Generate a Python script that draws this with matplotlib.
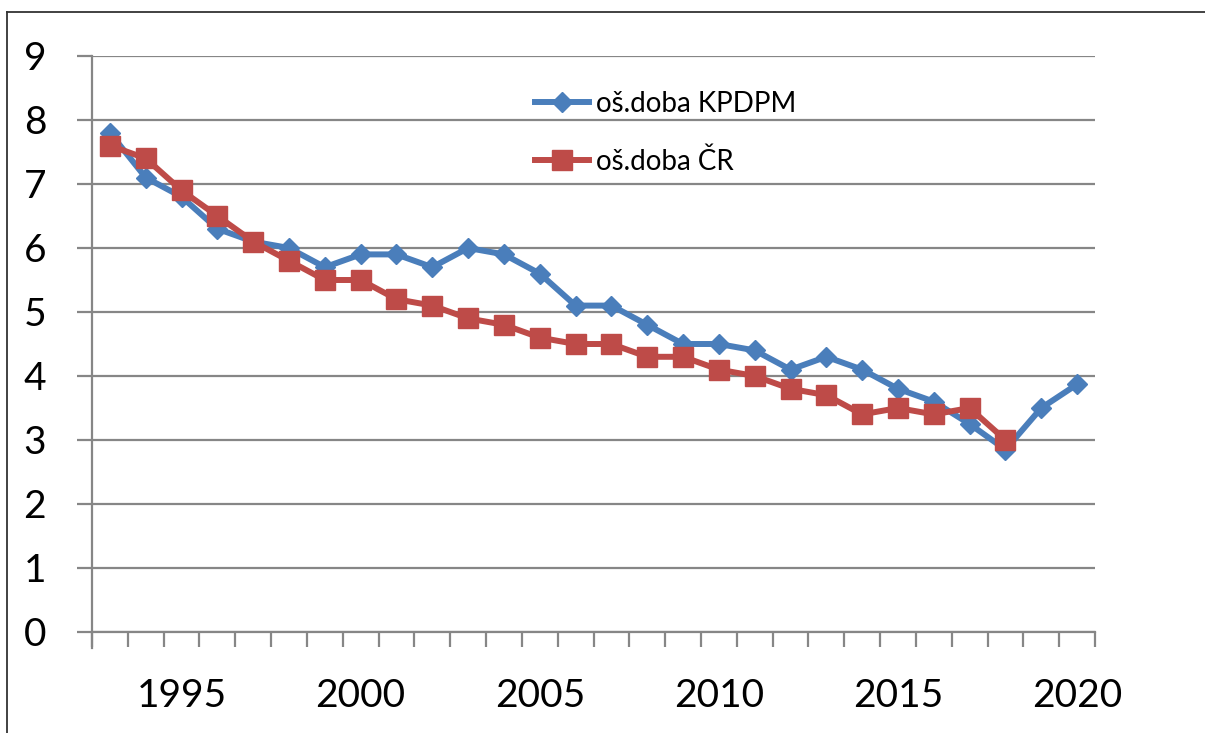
import matplotlib
matplotlib.use('Agg')
import matplotlib.pyplot as plt
from matplotlib.lines import Line2D
import numpy as np

years = list(range(1993, 2021))
kpdpm = [7.8, 7.1, 6.8, 6.3, 6.1, 6.0, 5.7, 5.9, 5.9, 5.7, 6.0, 5.9, 5.6, 5.1,
         5.1, 4.8, 4.5, 4.5, 4.4, 4.1, 4.3, 4.1, 3.8, 3.6, 3.25, 2.85, 3.5, 3.87]
cr = [7.6, 7.4, 6.9, 6.5, 6.1, 5.8, 5.5, 5.5, 5.2, 5.1, 4.9, 4.8, 4.6, 4.5,
      4.5, 4.3, 4.3, 4.1, 4.0, 3.8, 3.7, 3.4, 3.5, 3.4, 3.5, 3.0]
label_years = [1995, 2000, 2005, 2010, 2015, 2020]

plt.rcParams['font.family'] = ['Lato', 'DejaVu Sans']

W, H = 1205, 733
fig = plt.figure(figsize=(W / 100, H / 100), dpi=100)
ax = fig.add_axes([92 / W, 1 - 632 / H, (1095 - 92) / W, (632 - 56) / H])

grey = '#868686'
blue = '#4a7ebb'
red = '#be4b48'

x_k = np.arange(len(kpdpm))
x_c = np.arange(len(cr))
ax.plot(x_k, kpdpm, color=blue, lw=4.3, marker='D', ms=10.5,
        solid_joinstyle='round', label='oš.doba KPDPM', zorder=3)
ax.plot(x_c, cr, color=red, lw=4.3, marker='s', ms=14,
        solid_joinstyle='round', label='oš.doba ČR', zorder=4)

ax.set_xlim(-0.5, len(years) - 0.5)
ax.set_ylim(0, 9)
ax.set_yticks(range(0, 10))
ax.yaxis.grid(True, color=grey, lw=1.6)
ax.set_axisbelow(True)

# category boundaries as major ticks, labels on minor ticks
ax.set_xticks(np.arange(-0.5, len(years), 1.0))
ax.set_xticklabels([])
ax.set_xticks([years.index(y) for y in label_years], minor=True)
ax.set_xticklabels([str(y) for y in label_years], minor=True)
ax.tick_params(axis='x', which='major', direction='out', length=11, width=1.6, color=grey)
ax.tick_params(axis='x', which='minor', length=0, pad=33, labelsize=28)
ax.tick_params(axis='y', direction='out', length=11, width=1.6, color=grey,
               pad=22, labelsize=28)

for s in ['top', 'right']:
    ax.spines[s].set_visible(False)
for s in ['left', 'bottom']:
    ax.spines[s].set_color(grey)
    ax.spines[s].set_linewidth(1.6)
ax.spines['left'].set_bounds(-0.25, 9)

ax.legend(loc='upper left', bbox_to_anchor=(535 / W, 1 - 91 / H),
          bbox_transform=fig.transFigure, frameon=False, fontsize=20,
          handlelength=1.95, handletextpad=0.25, labelspacing=1.14,
          borderpad=0, borderaxespad=0)

# outer chart frame
fig.add_artist(Line2D([7.5 / W, 7.5 / W], [0, 1 - 12 / H], color='#333333', lw=1.3))
fig.add_artist(Line2D([7.5 / W, 1], [1 - 12 / H, 1 - 12 / H], color='#333333', lw=1.3))

fig.savefig('out.png', dpi=100)
